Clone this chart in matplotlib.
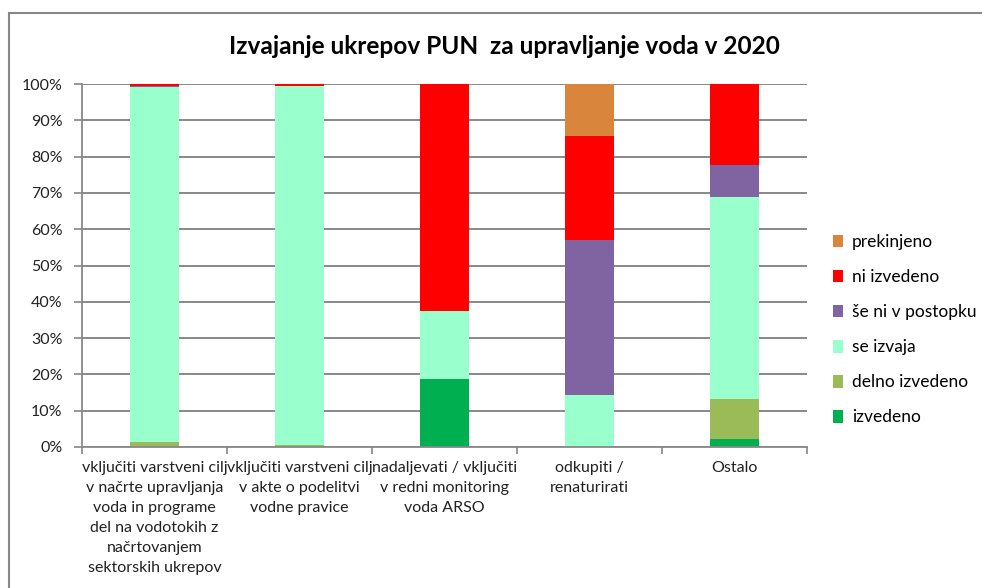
import numpy as np
import matplotlib
matplotlib.use("Agg")
import matplotlib.pyplot as plt
from matplotlib.patches import Rectangle, Patch

plt.rcParams['font.family'] = ['Lato', 'DejaVu Sans']

# data (percent of measures per group)
categories = [
    "vključiti varstveni cilj\nv načrte upravljanja\nvoda in programe\ndel na vodotokih z\nnačrtovanjem\nsektorskih ukrepov",
    "vključiti varstveni cilj\nv akte o podelitvi\nvodne pravice",
    "nadaljevati / vključiti\nv redni monitoring\nvoda ARSO",
    "odkupiti /\nrenaturirati",
    "Ostalo",
]
izvedeno = [0.0, 0.0, 18.75, 0.0, 2.2]
delno_izvedeno = [1.5, 0.5, 0.0, 0.0, 11.1]
se_izvaja = [97.8, 99.0, 18.75, 14.3, 55.6]
se_ni_v_postopku = [0.2, 0.0, 0.0, 42.8, 8.9]
ni_izvedeno = [0.5, 0.5, 62.5, 28.6, 22.2]
prekinjeno = [0.0, 0.0, 0.0, 14.3, 0.0]

series = [
    ("izvedeno", izvedeno, "#00B050"),
    ("delno izvedeno", delno_izvedeno, "#9BBB59"),
    ("se izvaja", se_izvaja, "#99FFCC"),
    ("še ni v postopku", se_ni_v_postopku, "#8064A2"),
    ("ni izvedeno", ni_izvedeno, "#FF0000"),
    ("prekinjeno", prekinjeno, "#D9853B"),
]

W, H = 982, 588
fig = plt.figure(figsize=(W / 100, H / 100), dpi=100)
ax = fig.add_axes([82 / W, 1 - 447 / H, (807 - 82) / W, (447 - 84) / H])

x = np.arange(len(categories))
bottom = np.zeros(len(categories))
for name, vals, col in series:
    ax.bar(x, vals, width=0.34, bottom=bottom, color=col, zorder=2)
    bottom += np.array(vals)

ax.set_xlim(-0.5, len(categories) - 0.5)
ax.set_ylim(0, 100)
ax.set_yticks(np.arange(0, 101, 10))
ax.set_yticklabels([f"{v}%" for v in range(0, 101, 10)], fontsize=11.5, color="#222222")
ax.yaxis.grid(True, color="#888888", linewidth=1.4, zorder=0)
ax.set_axisbelow(True)

ax.set_xticks(x)
ax.set_xticklabels(categories, fontsize=11.5, linespacing=1.55, color="#222222")
ax.set_xticks(np.arange(-0.5, len(categories)), minor=True)
ax.tick_params(axis="x", which="major", length=0, pad=10)
ax.tick_params(axis="x", which="minor", length=5, color="#888888", width=1.2)
ax.tick_params(axis="y", length=6, color="#888888", width=1.2, pad=8)

for s in ["top", "right"]:
    ax.spines[s].set_visible(False)
for s in ["left", "bottom"]:
    ax.spines[s].set_color("#888888")
    ax.spines[s].set_linewidth(1.3)

fig.text(504 / W, 1 - 46 / H, "Izvajanje ukrepov PUN  za upravljanje voda v 2020",
         ha="center", va="center", fontsize=17.6, fontweight="bold")

handles = [Patch(facecolor=col, label=name) for name, vals, col in reversed(series)]
fig.legend(handles=handles, loc="upper left", bbox_to_anchor=(833 / W, 1 - 234 / H),
           frameon=False, fontsize=12.5, handlelength=0.6, handleheight=0.75,
           handletextpad=0.5, labelspacing=1.1, borderaxespad=0, borderpad=0)

# outer chart border
fig.add_artist(Rectangle((8.5 / W, -0.1), 1.2, 1.1 - 13 / H, transform=fig.transFigure,
                         fill=False, edgecolor="#888888", linewidth=1.5))

fig.savefig("out.png", dpi=100)
